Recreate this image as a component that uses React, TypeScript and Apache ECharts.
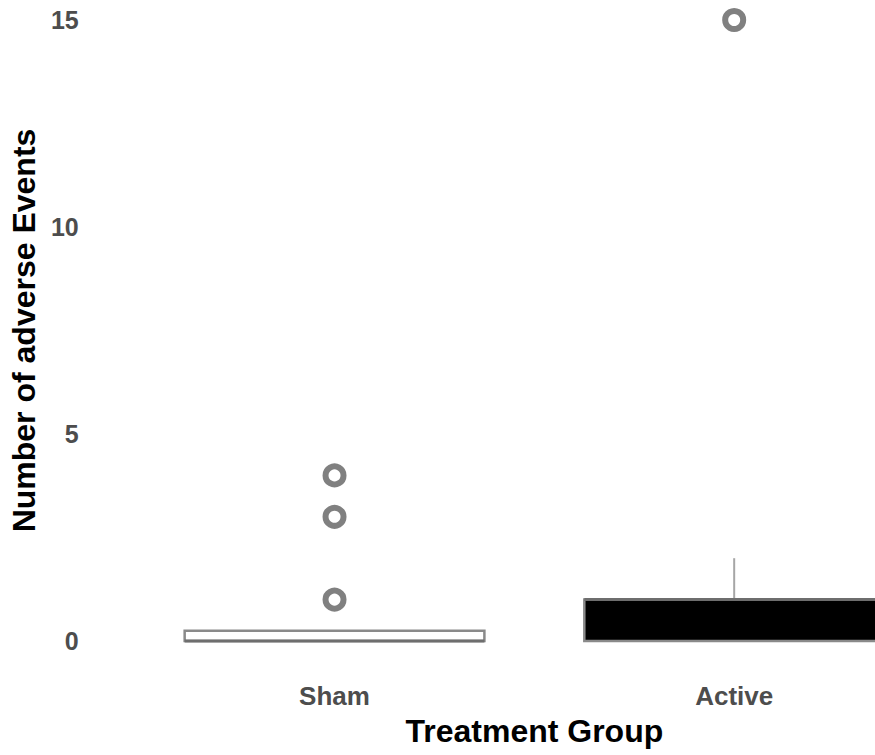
import React, { useEffect, useRef } from "react";
import * as echarts from "echarts";

const categories = ["Sham", "Active"];
// [min, Q1, median, Q3, max]
const boxValues = [
  [0, 0, 0, 0.25, 0.25],
  [0, 0, 1, 1, 2],
];
const boxFills = ["#ffffff", "#000000"];
const outlierPoints: [string, number][] = [
  ["Sham", 1],
  ["Sham", 3],
  ["Sham", 4],
  ["Active", 15],
];
const yTicks = { min: 0, max: 15, interval: 5 };

const FONT = "'Liberation Sans', Arial, Helvetica, sans-serif";

export default function App() {
  const ref = useRef<HTMLDivElement>(null);
  useEffect(() => {
    if (!ref.current) return;
    const chart = echarts.init(ref.current, undefined, { renderer: "svg" });
    chart.setOption({
      animation: false,
      backgroundColor: "#ffffff",
      grid: { left: 134, right: 4, top: 20, bottom: 114 },
      xAxis: {
        type: "category",
        data: categories,
        boundaryGap: true,
        axisLine: { show: false },
        axisTick: { show: false },
        splitLine: { show: false },
        axisLabel: {
          color: "#4d4d4d",
          fontSize: 26,
          fontWeight: "bold",
          fontFamily: FONT,
          margin: 42,
        },
        name: "Treatment Group",
        nameLocation: "middle",
        nameGap: 74,
        nameTextStyle: {
          color: "#000000",
          fontSize: 32,
          fontWeight: "bold",
          fontFamily: FONT,
        },
      },
      yAxis: {
        type: "value",
        min: yTicks.min,
        max: yTicks.max,
        interval: yTicks.interval,
        axisLine: { show: false },
        axisTick: { show: false },
        splitLine: { show: false },
        axisLabel: {
          color: "#4d4d4d",
          fontSize: 25,
          fontWeight: "bold",
          fontFamily: FONT,
          margin: 56,
        },
        name: "Number of adverse Events",
        nameLocation: "middle",
        nameGap: 93,
        nameTextStyle: {
          color: "#000000",
          fontSize: 32,
          fontWeight: "bold",
          fontFamily: FONT,
        },
      },
      series: [
        {
          type: "custom",
          data: boxValues.map((v, i) => [i, ...v]),
          encode: { x: 0, y: [1, 2, 3, 4, 5] },
          renderItem: (params: any, api: any) => {
            const idx = api.value(0);
            const mn = api.value(1);
            const q1 = api.value(2);
            const md = api.value(3);
            const q3 = api.value(4);
            const mx = api.value(5);
            const bw = api.size([1, 0])[0] * 0.75;
            const pQ1 = api.coord([idx, q1]);
            const pQ3 = api.coord([idx, q3]);
            const pMd = api.coord([idx, md]);
            const pMn = api.coord([idx, mn]);
            const pMx = api.coord([idx, mx]);
            const cx = pQ1[0];
            const fill = boxFills[idx];
            return {
              type: "group",
              children: [
                {
                  type: "line",
                  shape: { x1: cx, y1: pQ3[1], x2: cx, y2: pMx[1] },
                  style: { stroke: "#a6a6a6", lineWidth: 2 },
                },
                {
                  type: "line",
                  shape: { x1: cx, y1: pQ1[1], x2: cx, y2: pMn[1] },
                  style: { stroke: "#a6a6a6", lineWidth: 2 },
                },
                {
                  type: "rect",
                  shape: {
                    x: cx - bw / 2,
                    y: pQ3[1],
                    width: bw,
                    height: pQ1[1] - pQ3[1],
                  },
                  style: { fill, stroke: "#8a8a8a", lineWidth: 2.5 },
                },
                {
                  type: "line",
                  shape: { x1: cx - bw / 2, y1: pMd[1], x2: cx + bw / 2, y2: pMd[1] },
                  style: { stroke: "#6e6e6e", lineWidth: 3 },
                },
              ],
            };
          },
        },
        {
          type: "scatter",
          data: outlierPoints,
          symbol: "circle",
          symbolSize: 18,
          itemStyle: {
            color: "#ffffff",
            borderColor: "#808080",
            borderWidth: 6,
            opacity: 1,
          },
        },
      ],
    });
    return () => chart.dispose();
  }, []);
  return (
    <div
      style={{
        position: "absolute",
        left: 0,
        top: 0,
        width: 875,
        height: 755,
        overflow: "hidden",
      }}
    >
      <div ref={ref} style={{ width: 938, height: 755 }} />
    </div>
  );
}
